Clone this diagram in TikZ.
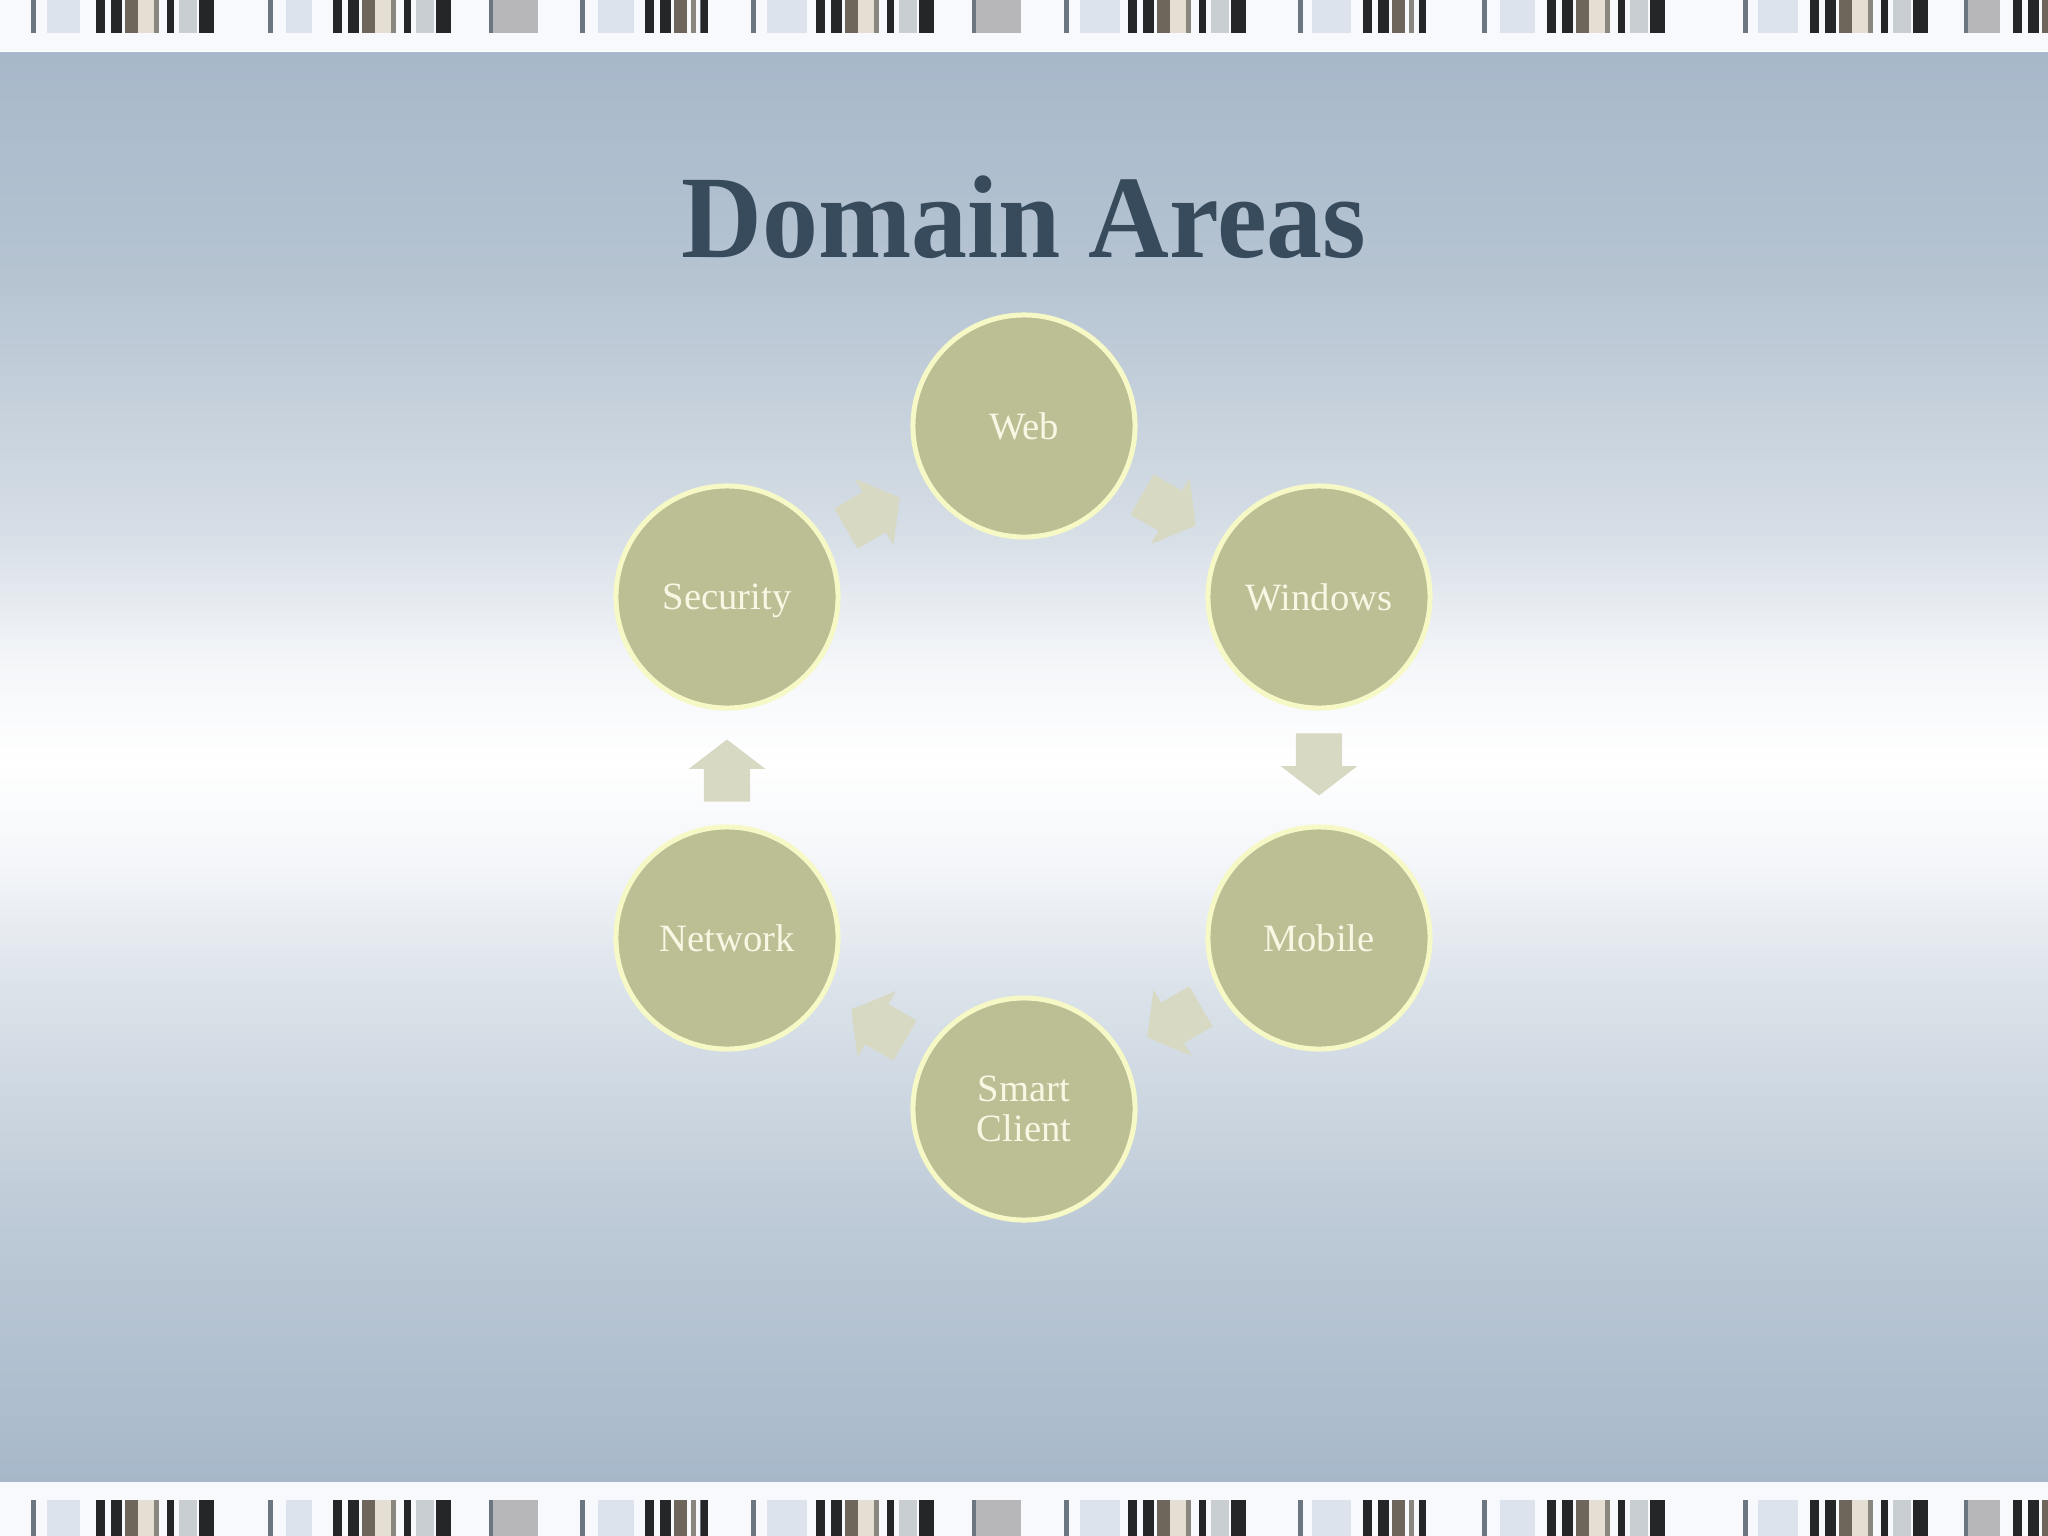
\documentclass[tikz,border=0pt]{standalone}
\usepackage{fontspec}
\setmainfont{Liberation Serif}
\newfontfamily\titlefont{Liberation Serif}[FakeStretch=0.95]
\usetikzlibrary{shapes.arrows,calc}

\definecolor{bgA}{HTML}{A7B8CA}
\definecolor{bgB}{HTML}{B6C4D2}
\definecolor{bgC}{HTML}{D6DEE6}
\definecolor{bgD}{HTML}{F4F6F9}
\definecolor{bgE}{HTML}{DCE3EA}
\definecolor{bgF}{HTML}{BCC9D6}
\definecolor{stripwhite}{HTML}{F7F9FC}
\definecolor{barthin}{HTML}{6B7680}
\definecolor{barpale}{HTML}{DDE3EC}
\definecolor{bargrey}{HTML}{B7B7BA}
\definecolor{bardark}{HTML}{252627}
\definecolor{barbrown}{HTML}{6E655B}
\definecolor{barbeige}{HTML}{E4DFD2}
\definecolor{barmid}{HTML}{8A8780}
\definecolor{barlight}{HTML}{C9CED3}
\definecolor{titleblue}{HTML}{374B5D}
\definecolor{areafill}{HTML}{BCBE94}
\definecolor{arearim}{HTML}{F6F9C6}
\definecolor{areatext}{HTML}{F7F7E4}
\definecolor{flowfill}{HTML}{D7D9C2}

\tikzset{
  area/.style={circle,fill=areafill,draw=arearim,line width=0.05cm,
    minimum size=2.22cm,inner sep=0pt,text=areatext,align=center,
    font=\fontsize{11}{11.5}\selectfont},
  flow/.style={single arrow,fill=flowfill,draw=none,
    inner xsep=0pt,inner ysep=0.225cm,minimum height=0.62cm,
    single arrow head extend=0.15cm,single arrow tip angle=105},
}

% bars of one barcode strip, from y #1 to y #2
\newcommand{\stripbars}[2]{%
  \foreach \x in {31,268,580,700,751,1064,1298,1482,1743}
    \fill[barthin] (\x,#1) rectangle (\x+5,#2);
  \foreach \x/\w in {47/33,286/26,598/36,767/40,1080/40,1312/39,1500/35,1758/40}
    \fill[barpale] (\x,#1) rectangle (\x+\w,#2);
  \foreach \x/\w in {489/49,972/49,1964/36} {
    \fill[bargrey] (\x,#1) rectangle (\x+\w,#2);
    \fill[barthin] (\x,#1) rectangle (\x+4,#2);
  }
  \foreach \x in {96,333,816,1128,1547,1810}
    \foreach \o/\w/\c in {0/9/bardark,15/11/bardark,29/13/barbrown,42/16/barbeige,
        58/5/barmid,71/7/bardark,83/18/barlight,103/15/bardark}
      \fill[\c] (\x+\o,#1) rectangle (\x+\o+\w,#2);
  \foreach \x in {645,1363,2013}
    \foreach \o/\w/\c in {0/9/bardark,15/11/bardark,29/13/barbrown,46/5/barmid,56/7/bardark}
      \fill[\c] (\x+\o,#1) rectangle (\x+\o+\w,#2);
}

\begin{document}
\begin{tikzpicture}[x=0.01cm,y=-0.01cm]
  \useasboundingbox (0,0) rectangle (2048,1536);

  % background
  \foreach \ya/\yb/\ca/\cb in {52/283/bgA/bgB,282/533/bgB/bgC,532/663/bgC/bgD,
      662/763/bgD/white,762/863/white/bgD,862/983/bgD/bgE,982/1233/bgE/bgF,1232/1482/bgF/bgA}
    \shade[top color=\ca,bottom color=\cb] (0,\ya) rectangle (2048,\yb);
  \fill[stripwhite] (0,0) rectangle (2048,51);
  \fill[stripwhite] (0,1482) rectangle (2048,1536);
  \stripbars{0}{33}
  \stripbars{1500}{1536}

  \node[anchor=base,text=titleblue,font=\titlefont\bfseries\fontsize{33.5}{36}\selectfont]
    (title) at (1024,257) {Domain Areas};

  % the cycle
  \node[area] (web)      at (1024,426)  {Web};
  \node[area] (windows)  at (1319,597)  {Windows};
  \node[area] (mobile)   at (1319,938)  {Mobile};
  \node[area] (smart)    at (1024,1109) {Smart\\Client};
  \node[area] (network)  at (727,938)   {Network};
  \node[area] (security) at (727,597)   {\raisebox{0pt}[\height][0pt]{Security}};

  \node[flow,rotate=-30]  (webwin)   at ($(web)!0.465!(windows)$) {};
  \node[flow,rotate=-90]  (winmob)   at ($(windows)!0.465!(mobile)$) {};
  \node[flow,rotate=-150] (mobsmart) at ($(mobile)!0.465!(smart)$) {};
  \node[flow,rotate=150]  (smartnet) at ($(smart)!0.465!(network)$) {};
  \node[flow,rotate=90]   (netsec)   at ($(network)!0.465!(security)$) {};
  \node[flow,rotate=30]   (secweb)   at ($(security)!0.465!(web)$) {};
\end{tikzpicture}
\end{document}
